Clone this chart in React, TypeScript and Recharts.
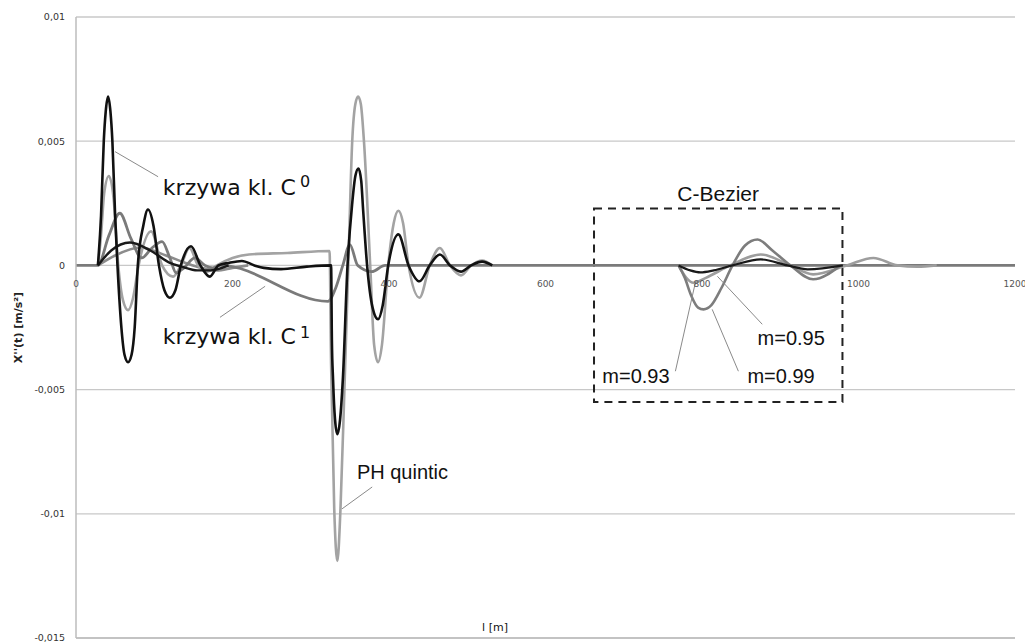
import React from 'react';
import { LineChart, Line, XAxis, YAxis, CartesianGrid, ReferenceDot, ReferenceLine, ReferenceArea } from 'recharts';

const xTicks = [0, 200, 400, 600, 800, 1000, 1200];
const yTicks = [-0.015, -0.01, -0.005, 0, 0.005, 0.01];

type P = { x: number; y: number };
const pts = (a: number[][]): P[] => a.map(([x, y]) => ({ x, y }));

// krzywa kl. C0 (black, large oscillation)
const blackC0 = pts([
  [28, 0], [32, 0.002], [35.5, 0.005], [38, 0.0062], [41, 0.0068], [44, 0.0062], [46.5, 0.005], [50, 0.002], [53, 0],
  [58, -0.0025], [62, -0.0036], [66.5, -0.0039], [71, -0.0036], [75, -0.0025], [79, 0],
  [86, 0.0016], [92, 0.00225], [99, 0.0016], [106, 0], [113, -0.001], [120, -0.0013], [127, -0.001], [134, 0],
  [147, 0.00077], [159, 0], [171, -0.00045], [182, 0], [195, 0.0001],
  [212, 0.00018], [228, 0], [240, -0.0001], [262, -0.00015], [295, -0.00005], [326, 0], [327, -0.003], [328.5, -0.0046],
  [331, -0.0062], [334, -0.0068], [337.5, -0.0062], [341, -0.0046], [347, 0], [353, 0.0025], [357, 0.0036], [361, 0.0039],
  [364.5, 0.0034], [367, 0.0022], [372, 0], [379, -0.0017], [386, -0.00217], [392, -0.0016], [399, 0],
  [412, 0.00125], [425, 0], [439, -0.00064], [452, 0], [465, 0.00044], [478, 0], [492, -0.00025], [505, 0], [519, 0.00015],
  [532, 0],
]);

// PH quintic (light gray)
const phQuintic = pts([
  [28, 0], [32, 0.0012], [36, 0.0029], [42, 0.0036], [48, 0.0027], [54, 0], [60, -0.0014], [66.5, -0.0018], [73, -0.0013],
  [80, 0], [96, 0.00137], [110, 0], [124, -0.00045], [134, 0],
  [145, 0.0007], [156, 0], [168, -0.00025], [180, 0], [200, 0.0003], [221, 0.00044], [270, 0.0005], [324, 0.00058],
  [326, -0.004], [330, -0.0098], [334, -0.0119], [338, -0.0098], [343, -0.005], [348, 0], [353, 0.005], [357, 0.0065],
  [360.5, 0.0068], [364, 0.0065], [368, 0.005], [376, 0], [381, -0.0032], [386, -0.0039], [391, -0.0032], [399, 0],
  [406, 0.0017], [412, 0.0022], [418, 0.0017], [425, 0], [439, -0.0013], [452, 0], [465, 0.0007],
  [478, 0], [492, -0.0004], [505, 0], [519, 0.0002], [532, 0],
]);

// krzywa kl. C1 (medium gray) – also the flat baseline
const c1Curve = pts([
  [0, 0], [28, 0], [42, 0.0012], [56, 0.0021], [70, 0.0011], [84, 0.0003], [97, 0.0007], [110, 0.00096], [120, 0.0003],
  [128, -0.0003], [138, -0.0001], [152, 0.0003], [165, 0], [175, -0.0001], [185, 0], [322, -0.00145], [332, -0.0009],
  [341, 0], [350, 0.00084], [360, 0], [378, -0.00025], [395, 0], [1200, 0],
]);

// smooth black bump
const blackSmooth = pts([
  [28, 0], [45, 0.0006], [69, 0.00092], [95, 0.0006], [120, 0.0001], [135, -0.00005], [155, -0.0002],
  [172, -0.0002], [195, 0],
]);

// smooth gray bump
const graySmooth = pts([
  [28, 0], [50, 0.0004], [82, 0.00072], [115, 0.0004], [140, 0.0001], [160, -0.0001], [180, -0.0002],
  [200, -0.0001], [220, 0],
]);

// C-Bezier curves
const bezBlack = pts([
  [770, 0], [785, -0.0002], [798, -0.00028], [815, -0.0002], [839, 0], [875, 0.00024], [909, 0],
  [935, -0.00016], [980, 0],
]);
const bezM093 = pts([
  [770, 0], [780, -0.0005], [789, -0.0007], [805, -0.0005], [836, 0], [875, 0.00044], [913, 0],
  [942, -0.00036], [985, 0], [1019, 0.0003], [1050, 0], [1075, -0.00005], [1100, 0],
]);
const bezM099 = pts([
  [770, 0], [778, -0.0005], [786, -0.0012], [795, -0.0017], [802, -0.00177], [812, -0.0016], [825, -0.0009],
  [839, 0], [855, 0.0008], [871, 0.00104], [890, 0.0006], [913, 0], [942, -0.00056], [977, 0],
]);

const leadLines = [
  [[49.9, 0.00458], [104.9, 0.00357]],
  [[184, -0.00209], [241.7, -0.00084]],
  [[378.5, -0.00892], [340, -0.0098]],
  [[766, -0.00426], [791.6, -0.00068]],
  [[846.5, -0.00426], [813, -0.00177]],
  [[877, -0.00237], [819.7, -0.00044]],
];

type Anno = { x: number; y: number; text: string; sup?: string; font: string; size: number; supDy?: number };
const annotations: Anno[] = [
  { x: 111, y: 0.00285, text: 'krzywa kl. C', sup: '0', font: 'DejaVu Sans', size: 22, supDy: -8 },
  { x: 111, y: -0.00317, text: 'krzywa kl. C', sup: '1', font: 'DejaVu Sans', size: 22, supDy: -6 },
  { x: 359, y: -0.0086, text: 'PH quintic', font: 'Liberation Sans', size: 20 },
  { x: 768.5, y: 0.00261, text: 'C-Bezier', font: 'Liberation Sans', size: 21 },
  { x: 672.6, y: -0.00474, text: 'm=0.93', font: 'Liberation Sans', size: 20 },
  { x: 858, y: -0.00474, text: 'm=0.99', font: 'Liberation Sans', size: 20 },
  { x: 871, y: -0.00321, text: 'm=0.95', font: 'Liberation Sans', size: 20 },
  { x: 519, y: -0.0147, text: 'l [m]', font: 'DejaVu Sans', size: 11 },
];

const fmt = (v: number) => String(v).replace('.', ',');

const center = (p: any) => {
  const vb = p.viewBox || p;
  return { x: (vb.x || 0) + (vb.width || 0) / 2, y: (vb.y || 0) + (vb.height || 0) / 2 };
};

const YLabel = (p: any) => {
  const vb = p.viewBox || {};
  const cx = (vb.x || 0) + 12;
  const cy = (vb.y || 0) + (vb.height || 0) / 2;
  return (
    <text x={cx} y={cy} transform={`rotate(-90 ${cx} ${cy})`} textAnchor="middle" dominantBaseline="central"
      fontFamily="DejaVu Sans" fontSize={11} fontWeight="bold" fill="#222">
      X''(t) [m/s²]
    </text>
  );
};

export default function App() {
  const lineProps = { dataKey: 'y', type: 'monotone' as const, dot: false, isAnimationActive: false, activeDot: false };
  return (
    <div style={{ position: 'absolute', left: 0, top: 0, background: '#fff' }}>
      <LineChart width={1025} height={642} margin={{ top: 17, right: 10, bottom: 0, left: 6 }}>
        <CartesianGrid vertical={false} stroke="#c8c8c8" strokeWidth={1.3} />
        <XAxis type="number" dataKey="x" domain={[0, 1200]} ticks={xTicks} tick={false} tickLine={false}
          axisLine={{ stroke: '#bdbdbd', strokeWidth: 1.5 }} height={4} allowDataOverflow />
        <YAxis type="number" domain={[-0.015, 0.01]} ticks={yTicks} interval={0} width={70} tickLine={false}
          tickSize={0} tickMargin={11} axisLine={{ stroke: '#bdbdbd', strokeWidth: 1.5 }}
          tick={{ fontSize: 9.5, fill: '#333', fontFamily: 'DejaVu Sans' }} tickFormatter={fmt}
          allowDataOverflow label={{ content: YLabel }} />

        <Line {...lineProps} data={graySmooth} stroke="#8c8c8c" strokeWidth={2.6} />
        <Line {...lineProps} data={phQuintic} stroke="#a3a3a3" strokeWidth={2.6} />
        <Line {...lineProps} data={c1Curve} stroke="#7a7a7a" strokeWidth={2.8} />
        <Line {...lineProps} data={blackSmooth} stroke="#1a1a1a" strokeWidth={2.4} />
        <Line {...lineProps} data={blackC0} stroke="#111" strokeWidth={2.6} />
        <Line {...lineProps} data={bezM093} stroke="#9d9d9d" strokeWidth={2.6} />
        <Line {...lineProps} data={bezM099} stroke="#7d7d7d" strokeWidth={2.6} />
        <Line {...lineProps} data={bezBlack} stroke="#1a1a1a" strokeWidth={2.2} />

        {xTicks.map((t) => (
          <ReferenceDot key={'xt' + t} x={t} y={0} r={1} fill="none" stroke="none" ifOverflow="visible"
            label={(p: any) => {
              const c = center(p);
              return (
                <text x={c.x} y={c.y + 22} textAnchor="middle" fontFamily="DejaVu Sans" fontSize={9} fill="#555">
                  {t}
                </text>
              );
            }} />
        ))}

        {leadLines.map((s, i) => (
          <ReferenceLine key={'ll' + i} segment={[{ x: s[0][0], y: s[0][1] }, { x: s[1][0], y: s[1][1] }]}
            stroke="#8a8a8a" strokeWidth={1} ifOverflow="visible" />
        ))}

        <ReferenceArea x1={662} x2={979.5} y1={-0.0055} y2={0.00229} fill="none" fillOpacity={0}
          stroke="#222" strokeDasharray="8 6" strokeWidth={2} ifOverflow="visible" />

        {annotations.map((a, i) => (
          <ReferenceDot key={'an' + i} x={a.x} y={a.y} r={1} fill="none" stroke="none" ifOverflow="visible"
            label={(p: any) => {
              const c = center(p);
              return (
                <text x={c.x} y={c.y} textAnchor="start" fontFamily={a.font} fontSize={a.size} fill="#111">
                  {a.text}
                  {a.sup ? (
                    <tspan dx={4} dy={a.supDy} fontSize={16}>{a.sup}</tspan>
                  ) : null}
                </text>
              );
            }} />
        ))}
      </LineChart>
    </div>
  );
}
